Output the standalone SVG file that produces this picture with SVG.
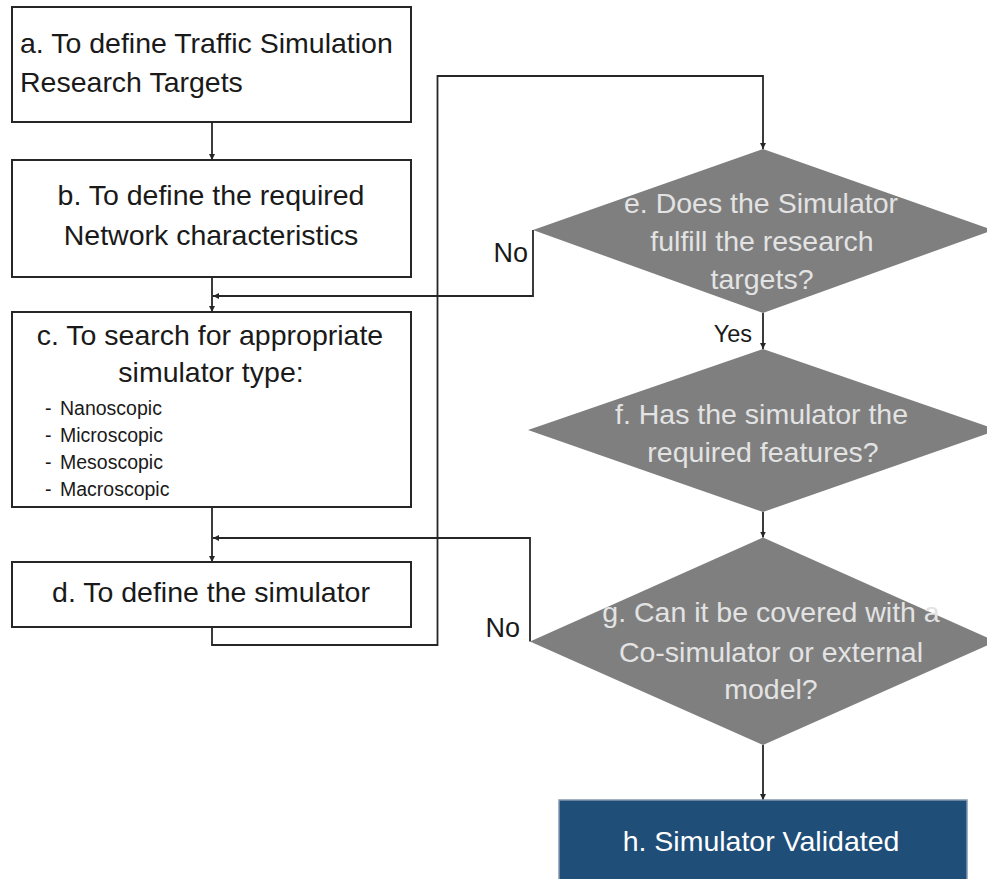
<svg xmlns="http://www.w3.org/2000/svg" width="987" height="879" viewBox="0 0 987 879">
  <style>
    .box { fill: #ffffff; stroke: #262626; stroke-width: 2; }
    .dia { fill: #7f7f7f; stroke: none; }
    .term { fill: #1f4e79; stroke: #8497b0; stroke-width: 1.5; }
    .t { font-family: "Liberation Sans", Arial, sans-serif; font-size: 28.5px; fill: #1a1a1a; }
    .tc { text-anchor: middle; }
    .small { font-family: "Liberation Sans", Arial, sans-serif; font-size: 19.5px; fill: #1a1a1a; }
    .q { font-family: "Liberation Sans", Arial, sans-serif; font-size: 28.5px; fill: #e3e3e3; text-anchor: middle; }
    .w { font-family: "Liberation Sans", Arial, sans-serif; font-size: 28.5px; fill: #ffffff; text-anchor: middle; }
    .lbl { font-family: "Liberation Sans", Arial, sans-serif; fill: #1a1a1a; text-anchor: end; }
    .con { fill: none; stroke: #262626; stroke-width: 1.8; marker-end: url(#arr); }
  </style>
  <defs>
    <marker id="arr" markerUnits="userSpaceOnUse" markerWidth="7" markerHeight="7" refX="6" refY="3" orient="auto">
      <path d="M0,0 L6,3 L0,6 z" fill="#262626"/>
    </marker>
  </defs>
  <rect width="987" height="879" fill="#ffffff"/>

  <!-- connectors -->
  <g id="connectors">
    <path class="con" d="M212,122 V160"/>
    <path class="con" d="M212,277 V312"/>
    <path class="con" d="M212,507 V562"/>
    <path class="con" d="M212,627 V645 H437.5 V76 H763 V149"/>
    <path class="con" d="M533,230 V296 H213"/>
    <path class="con" d="M763,313 V349"/>
    <path class="con" d="M763,512 V537.5"/>
    <path class="con" d="M530,641.5 V538 H213"/>
    <path class="con" d="M763,745 V800"/>
  </g>

  <!-- step a -->
  <g id="node-a">
    <rect class="box" x="12" y="7" width="399" height="115"/>
    <text class="t" x="20" y="53">a. To define Traffic Simulation</text>
    <text class="t" x="20" y="92">Research Targets</text>
  </g>

  <!-- step b -->
  <g id="node-b">
    <rect class="box" x="12" y="160" width="399" height="117"/>
    <text class="t tc" x="211" y="205">b. To define the required</text>
    <text class="t tc" x="211" y="245">Network characteristics</text>
  </g>

  <!-- step c -->
  <g id="node-c">
    <rect class="box" x="12" y="312" width="399" height="195"/>
    <text class="t tc" x="210" y="345">c. To search for appropriate</text>
    <text class="t tc" x="211" y="382">simulator type:</text>
    <text class="small" x="45" y="415">-</text><text class="small" x="60" y="415">Nanoscopic</text>
    <text class="small" x="45" y="442">-</text><text class="small" x="60" y="442">Microscopic</text>
    <text class="small" x="45" y="469">-</text><text class="small" x="60" y="469">Mesoscopic</text>
    <text class="small" x="45" y="496">-</text><text class="small" x="60" y="496">Macroscopic</text>
  </g>

  <!-- step d -->
  <g id="node-d">
    <rect class="box" x="12" y="562" width="399" height="65"/>
    <text class="t tc" x="211" y="602">d. To define the simulator</text>
  </g>

  <!-- decision e -->
  <g id="node-e">
    <polygon class="dia" points="763,149 993,230 763,313 533,230"/>
    <text class="q" x="761" y="213">e. Does the Simulator</text>
    <text class="q" x="762" y="251">fulfill the research</text>
    <text class="q" x="762" y="289">targets?</text>
  </g>

  <!-- decision f -->
  <g id="node-f">
    <polygon class="dia" points="763,349 998,430 763,512 528,430"/>
    <text class="q" x="761.5" y="424">f. Has the simulator the</text>
    <text class="q" x="763" y="462">required features?</text>
  </g>

  <!-- decision g -->
  <g id="node-g">
    <polygon class="dia" points="763,537.5 996,641.5 763,745 530,641.5"/>
    <text class="q" x="771" y="622">g. Can it be covered with a</text>
    <text class="q" x="771" y="662">Co-simulator or external</text>
    <text class="q" x="771" y="699">model?</text>
  </g>

  <!-- terminal h -->
  <g id="node-h">
    <rect class="term" x="559" y="800" width="408" height="90"/>
    <text class="w" x="761" y="851">h. Simulator Validated</text>
  </g>

  <!-- branch labels -->
  <g id="labels">
    <text class="lbl" x="528" y="262" font-size="27">No</text>
    <text class="lbl" x="520" y="637" font-size="27">No</text>
    <text class="lbl" x="752" y="342" font-size="23.5">Yes</text>
  </g>
</svg>
